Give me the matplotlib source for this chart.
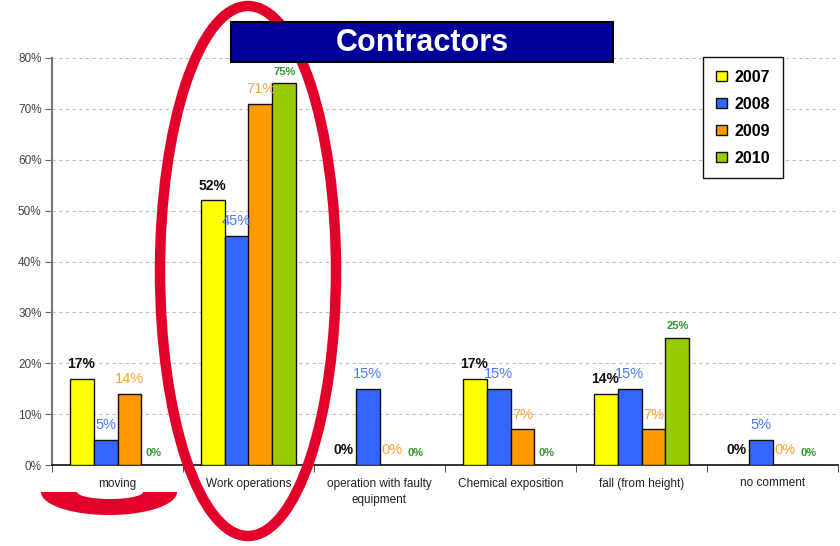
import numpy as np
import matplotlib.pyplot as plt
from matplotlib.patches import Ellipse, Rectangle, Patch, PathPatch
from matplotlib.path import Path

plt.rcParams['font.family'] = ['Liberation Sans', 'DejaVu Sans']

categories = ['moving', 'Work operations', 'operation with faulty\nequipment',
              'Chemical exposition', 'fall (from height)', 'no comment']
years = ['2007', '2008', '2009', '2010']
v2007 = [17, 52, 0, 17, 14, 0]
v2008 = [5, 45, 15, 15, 15, 5]
v2009 = [14, 71, 0, 7, 7, 0]
v2010 = [0, 75, 0, 0, 25, 0]

bar_colors = ['#ffff00', '#3366ff', '#ff9900', '#99cc00']
text_colors = ['#111111', '#4a78ff', '#ffa033', '#2f9a2f']
text_weights = ['bold', 'normal', 'normal', 'bold']
text_sizes = [10, 10.5, 10.5, 8]
text_offsets = [10.5, 10.5, 10.5, 8.5]

W, H = 840, 546
fig = plt.figure(figsize=(W / 100, H / 100), dpi=100)
ax = fig.add_axes([52 / W, (H - 465) / H, 786 / W, 407 / H])

x = np.arange(len(categories))
width = 0.183
series = [v2007, v2008, v2009, v2010]
for i, vals in enumerate(series):
    xs = x + (i - 1.5) * width
    ax.bar(xs, vals, width, color=bar_colors[i], edgecolor='#111111',
           linewidth=1, zorder=3)
    for xv, v in zip(xs, vals):
        ax.annotate(f'{v}%', (xv, v), xytext=(0, text_offsets[i]),
                    textcoords='offset points', ha='center', va='center',
                    color=text_colors[i], fontsize=text_sizes[i],
                    fontweight=text_weights[i], zorder=4)

ax.set_xlim(-0.5, len(categories) - 0.5)
ax.set_ylim(0, 80)
ax.set_yticks(np.arange(0, 81, 10))
ax.set_yticklabels([f'{t}%' for t in range(0, 81, 10)])
ax.yaxis.grid(True, linestyle=(0, (3, 3)), color='#c0c0c0', linewidth=0.8)
ax.set_axisbelow(True)

ax.set_xticks(x)
ax.set_xticklabels(categories, linespacing=1.45)
ax.set_xticks(np.arange(-0.5, len(categories)), minor=True)
ax.tick_params(axis='x', which='major', length=0, pad=9, labelsize=8.5,
               colors='#222222')
ax.tick_params(axis='x', which='minor', length=5, direction='out',
               color='#333333')
ax.tick_params(axis='y', length=5, color='#666666', labelsize=8.5,
               labelcolor='#444444', pad=2.5)

for s in ['top', 'right']:
    ax.spines[s].set_visible(False)
ax.spines['left'].set_color('#777777')
ax.spines['left'].set_linewidth(1.5)
ax.spines['bottom'].set_color('#111111')
ax.spines['bottom'].set_linewidth(1.2)


def px(xp, yp):
    return xp / W, 1 - yp / H


# hand-drawn red marks
red = '#e2002a'
ell = Ellipse(px(248, 271), 176 / W, 530 / H, fill=False, edgecolor=red,
              linewidth=7.5, transform=fig.transFigure, zorder=5)
fig.patches.append(ell)

t_out = np.linspace(np.pi, 2 * np.pi, 60)
t_in = np.linspace(2 * np.pi, np.pi, 60)
outer = np.column_stack([109 + 68 * np.cos(t_out), 492 - 23 * np.sin(t_out)])
inner = np.column_stack([110 + 33 * np.cos(t_in), 492 - 7 * np.sin(t_in)])
pts = np.vstack([outer, inner, outer[:1]])
smile = Path([px(a, b) for a, b in pts])
fig.patches.append(PathPatch(smile, facecolor=red, edgecolor='none',
                             transform=fig.transFigure, zorder=5))

# title box
box = Rectangle(px(231, 62), 382 / W, 40 / H, facecolor='#000099',
                edgecolor='black', linewidth=1.5, transform=fig.transFigure,
                zorder=6)
fig.patches.append(box)
fig.text(*px(422, 43), 'Contractors', color='white', fontsize=22,
         fontweight='bold', ha='center', va='center', zorder=7)

handles = [Patch(facecolor=c, edgecolor='#111111', linewidth=1)
           for c in bar_colors]
leg = fig.legend(handles, years, loc='upper right',
                 bbox_to_anchor=px(783, 57), frameon=True, fancybox=False,
                 edgecolor='#111111', framealpha=1, borderpad=0.8,
                 handlelength=0.65, handleheight=0.65, handletextpad=0.5,
                 labelspacing=0.75, borderaxespad=0,
                 prop={'weight': 'bold', 'size': 11.5})
leg.get_frame().set_linewidth(1)
leg.set_zorder(8)

fig.savefig('out.png', dpi=100)
